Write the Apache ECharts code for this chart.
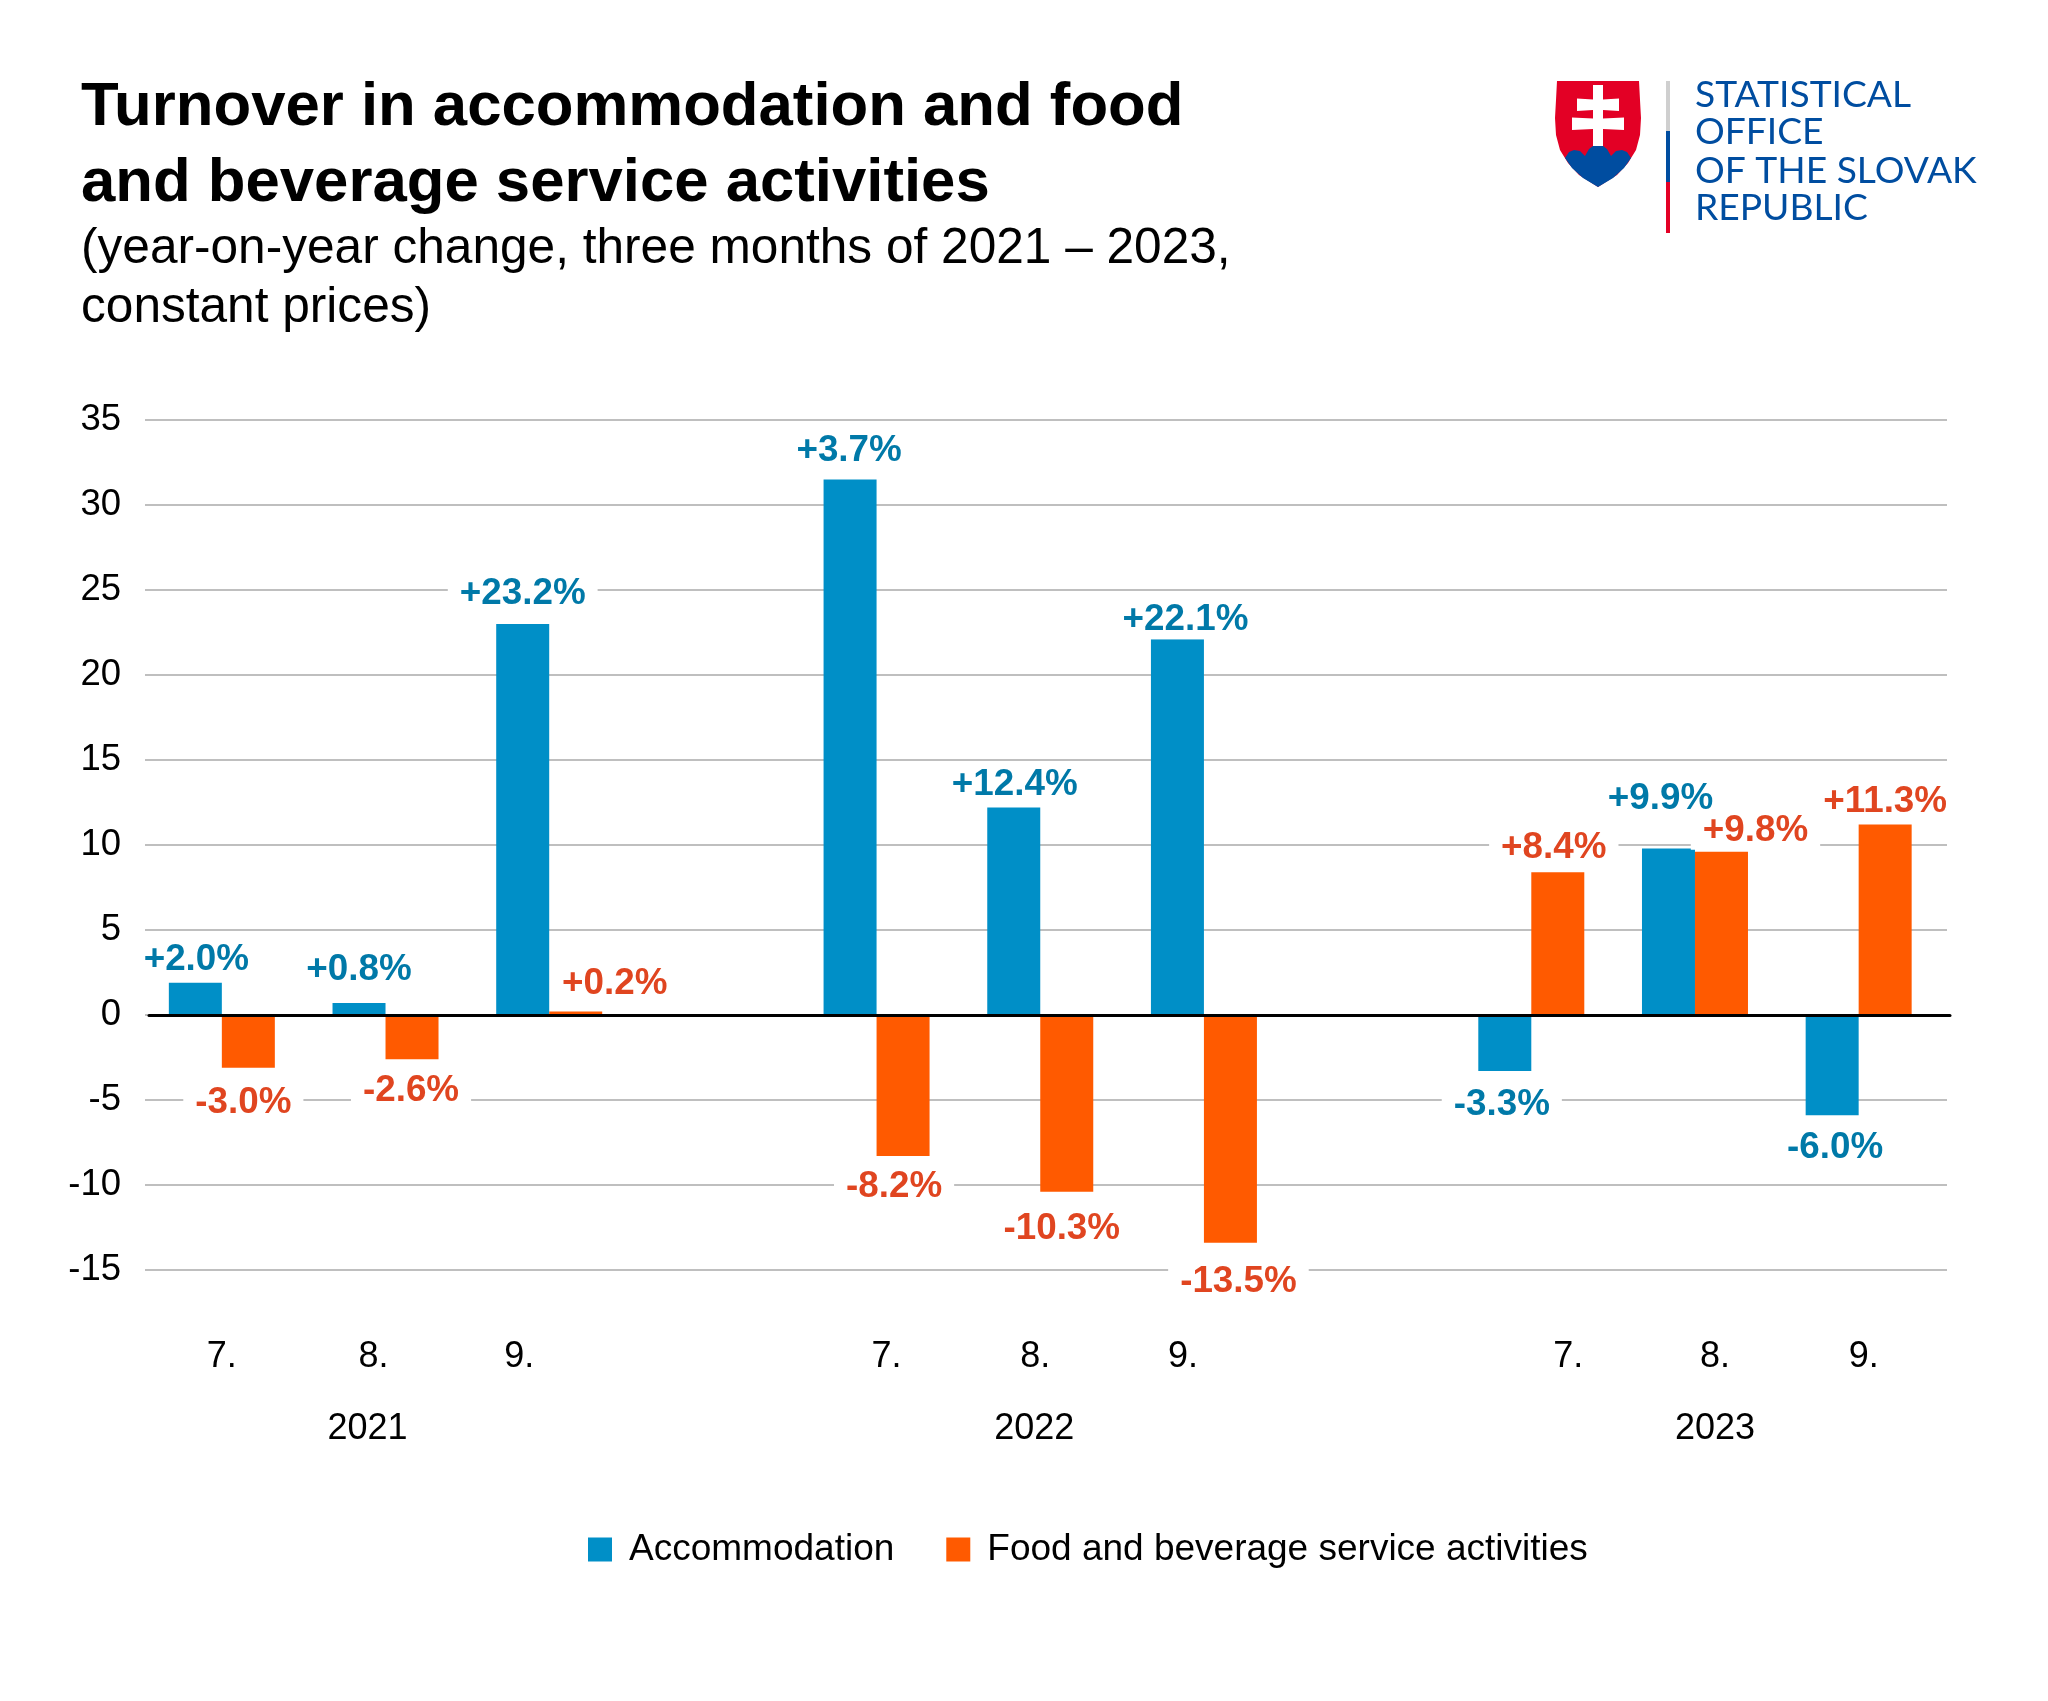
<!DOCTYPE html>
<html><head><meta charset="utf-8">
<style>html,body{margin:0;padding:0;background:#fff}#c{width:2048px;height:1701px}</style>
<script src="https://cdn.jsdelivr.net/npm/echarts@6/dist/echarts.min.js"></script>
</head><body><div id="c"></div>
<script>
const months = ['7.','8.','9.','','7.','8.','9.','','7.','8.','9.'];
const years = ['','2021','','','','2022','','','','2023',''];
const yTicksMin = -15, yTicksMax = 35, yStep = 5;
const accommodation = [1.9,0.7,23.0,null,31.5,12.2,22.1,null,-3.3,9.8,-5.9];
const foodBeverage = [-3.1,-2.6,0.2,null,-8.3,-10.4,-13.4,null,8.4,9.6,11.2];
const accommodationLabels = ['+2.0%','+0.8%','+23.2%','','+3.7%','+12.4%','+22.1%','','-3.3%','+9.9%','-6.0%'];
const foodBeverageLabels = ['-3.0%','-2.6%','+0.2%','','-8.2%','-10.3%','-13.5%','','+8.4%','+9.8%','+11.3%'];
// label placement: [horizontal shift, distance from bar end]
const accNudge = [[1,23],[0,33],[0,30],[0,0],[-1,29],[1,23],[8,19],[0,0],[-3,34],[-8,50],[3,33]];
const foodNudge = [[-5,35],[-1,32],[39,28],[0,0],[-9,31],[-5,37],[8,39],[0,0],[-4,24],[34,21],[0,23]];
const monthShift = [0,-12,-30,0,10,-5,-21,0,37,20,5];
const yearShift = [0,-18,0,0,0,-6,0,0,0,20,0];

const LH = 38;
function barData(vals, labels, nudges) {
  return vals.map((v,i)=>{
    if (v===null) return {value:null};
    const pos = v>=0 ? 'top':'bottom';
    const n = nudges[i];
    const dy = v>=0 ? LH/2-n[1] : n[1]-LH/2;
    return {value:v,label:{show:true,position:pos,distance:0,offset:[n[0],dy],formatter:labels[i]}};
  });
}
function shifted(list, shifts){
  return list.map((t,i)=>{
    const s=shifts[i]*2;
    return {value:t,textStyle:{padding:s>=0?[0,0,0,s]:[0,-s,0,0]}};
  });
}
const font='"Liberation Sans", Arial, sans-serif';
const yBase={type:'value',min:yTicksMin,max:yTicksMax,interval:yStep};
const chart=echarts.init(document.getElementById('c'),null,{renderer:'canvas'});
const shieldRed='#E30025', sBlue='#004DA0';
const gridTop=420, gridH=850;
chart.setOption({
  animation:false,
  backgroundColor:'#fff',
  title:[
    {text:'Turnover in accommodation and food\nand beverage service activities',left:76,top:65,
     textStyle:{fontFamily:font,fontWeight:'bold',fontSize:61.7,lineHeight:76,color:'#000'}},
    {text:'(year-on-year change, three months of 2021 – 2023,\nconstant prices)',left:76,top:215,
     textStyle:{fontFamily:font,fontWeight:'normal',fontSize:49.6,lineHeight:59,color:'#000'}}
  ],
  legend:{left:583,top:1526,itemWidth:24,itemHeight:24,itemGap:52,icon:'rect',
    textStyle:{fontFamily:font,fontSize:37,color:'#000',padding:[0,0,0,12]},
    data:['Accommodation','Food and beverage service activities']},
  grid:[
    {left:145,right:101,top:gridTop,height:gridH},
    {left:140,right:107.5,top:gridTop,height:gridH},
    {left:149,right:98,top:gridTop,height:gridH}
  ],
  xAxis:[
    {type:'category',gridIndex:0,data:[],show:false},
    {type:'category',gridIndex:1,data:shifted(months,monthShift),position:'bottom',
      axisLine:{onZero:false,show:false},axisTick:{show:false},
      axisLabel:{interval:0,margin:69,fontFamily:font,fontSize:36,color:'#000',hideOverlap:false}},
    {type:'category',gridIndex:1,data:shifted(years,yearShift),position:'bottom',offset:72,
      axisLine:{onZero:false,show:false},axisTick:{show:false},
      axisLabel:{interval:0,margin:69,fontFamily:font,fontSize:36,color:'#000',hideOverlap:false}},
    {type:'category',gridIndex:2,data:[],z:10,axisLine:{show:true,onZero:true,lineStyle:{color:'#000',width:3}},
      axisTick:{show:false},axisLabel:{show:false}}
  ],
  yAxis:[
    {...yBase,gridIndex:0,axisLine:{show:false},axisTick:{show:false},
      axisLabel:{margin:24,fontFamily:font,fontSize:36.5,color:'#000',padding:[5,0,0,0]},
      splitLine:{show:true,lineStyle:{color:'#BFBFBF',width:2}}},
    {...yBase,gridIndex:1,show:false,splitLine:{show:false}},
    {...yBase,gridIndex:2,show:false,splitLine:{show:false}}
  ],
  series:[
    {name:'Accommodation',type:'bar',xAxisIndex:1,yAxisIndex:1,barWidth:53,barGap:0,
      itemStyle:{color:'#008FC7'},
      label:{fontFamily:font,fontSize:36.8,fontWeight:'bold',color:'#0079A8',backgroundColor:'#fff',padding:[0,12],lineHeight:LH},
      data:barData(accommodation,accommodationLabels,accNudge)},
    {name:'Food and beverage service activities',type:'bar',xAxisIndex:1,yAxisIndex:1,barWidth:53,barGap:0,
      itemStyle:{color:'#FF5A00'},
      label:{fontFamily:font,fontSize:36.8,fontWeight:'bold',color:'#E04520',backgroundColor:'#fff',padding:[0,12],lineHeight:LH},
      data:barData(foodBeverage,foodBeverageLabels,foodNudge)}
  ],
  graphic:[
    {type:'group',silent:true,children:[
      {type:'polygon',shape:{points:[[1557,81],[1639,81],[1640,100],[1641,118],[1640,135],[1636,150],[1628,163],[1617,175],[1598,187],[1579,175],[1568,163],[1560,150],[1556,135],[1555,118],[1556,100]]},style:{fill:shieldRed}},
      {type:'polygon',shape:{points:[[1565,158],[1569,152],[1574,150],[1580,151],[1585,156],[1589,149],[1593,146],[1598,145],[1603,146],[1607,149],[1611,156],[1616,151],[1622,150],[1627,152],[1631,158],[1624,168],[1613,178],[1598,187],[1583,178],[1572,168]]},style:{fill:sBlue}},
      {type:'polygon',shape:{points:[[1593,85],[1603,85],[1603,99.5],[1619,98.5],[1619,111],[1603,110],[1603,118.5],[1624,117.5],[1624,130],[1603,129],[1603,146],[1593,146],[1593,129],[1572,130],[1572,117.5],[1593,118.5],[1593,110],[1577,111],[1577,98.5],[1593,99.5]]},style:{fill:'#fff'}},
      {type:'rect',shape:{x:1666,y:81,width:4,height:50},style:{fill:'#CFCFCF'}},
      {type:'rect',shape:{x:1666,y:131,width:4,height:51},style:{fill:sBlue}},
      {type:'rect',shape:{x:1666,y:182,width:4,height:51},style:{fill:shieldRed}},
      {type:'text',style:{x:1695,y:95,text:'STATISTICAL',fill:sBlue,font:'37.2px Lato',verticalAlign:'middle'}},
      {type:'text',style:{x:1695,y:132,text:'OFFICE',fill:sBlue,font:'37.2px Lato',verticalAlign:'middle'}},
      {type:'text',style:{x:1695,y:171,text:'OF THE SLOVAK',fill:sBlue,font:'37.2px Lato',verticalAlign:'middle'}},
      {type:'text',style:{x:1695,y:208,text:'REPUBLIC',fill:sBlue,font:'37.2px Lato',verticalAlign:'middle'}}
    ]}
  ]
});
</script></body></html>
